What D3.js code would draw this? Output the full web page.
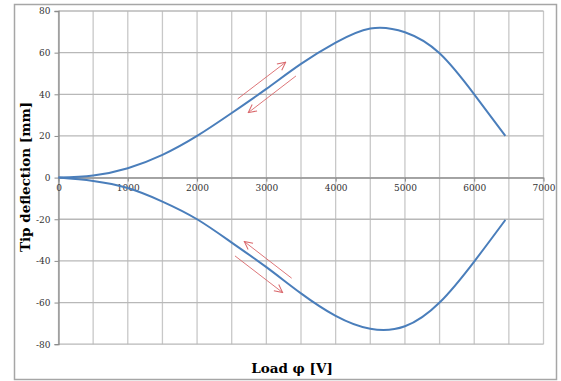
<!DOCTYPE html>
<html>
<head>
<meta charset="utf-8">
<script src="https://cdn.jsdelivr.net/npm/d3@7"></script>
<style>
  body { margin: 0; background: #fff; }
  svg { display: block; }
  .tick-label { font-family: "DejaVu Serif", serif; font-size: 9px; fill: #333; }
  .axis-title { font-family: "DejaVu Serif", serif; font-size: 13.5px; font-weight: bold; fill: #000; }
</style>
</head>
<body>
<svg id="chart" width="561" height="381"></svg>
<script>
// Load in volts
const load = [0, 500, 1000, 1500, 2000, 2500, 3000, 3500, 4000, 4500, 5000, 5500, 6000, 6450];
// Tip deflection in mm, positive branch
const deflectionUp = [0, 1, 4.5, 10.9, 20, 31, 42.6, 54.6, 64.8, 71.6, 69.8, 59.7, 40, 20];
// Negative branch
const deflectionDown = [0, -1.6, -5, -11.5, -20, -31.2, -43, -55.6, -66.4, -72.6, -71.4, -60, -40.3, -20.3];

const xTicks = [0, 1000, 2000, 3000, 4000, 5000, 6000, 7000];
const xGrid = [0, 500, 1000, 1500, 2000, 2500, 3000, 3500, 4000, 4500, 5000, 5500, 6000, 6500, 7000];
const yTicks = [-80, -60, -40, -20, 0, 20, 40, 60, 80];

// Direction arrows (from -> to), in data units
const arrowsFrom = [[2586, 37.8], [3427, 48.8], [3365, -48.3], [2547, -37.6]];
const arrowsTo = [[3279, 55.4], [2739, 31.2], [2681, -30.7], [3235, -55.2]];

const svg = d3.select('#chart');

// Outer chart border
svg.append('rect')
  .attr('x', 14.5).attr('y', 4.5)
  .attr('width', 542).attr('height', 375)
  .attr('fill', '#fff')
  .attr('stroke', '#a6a6a6')
  .attr('stroke-width', 1.5);

const margin = { top: 11, right: 18, bottom: 37, left: 58.5 };
const width = 543.5 - margin.left;
const height = 344.2 - margin.top;

const chart = svg.append('g')
  .attr('transform', `translate(${margin.left},${margin.top})`);

const xScale = d3.scaleLinear().domain([0, 7000]).range([0, width]);
const yScale = d3.scaleLinear().domain([-80, 80]).range([height, 0]);

// Grid lines
chart.selectAll('.vgrid')
  .data(xGrid)
  .enter().append('line')
  .attr('class', 'vgrid')
  .attr('x1', d => xScale(d)).attr('x2', d => xScale(d))
  .attr('y1', 0).attr('y2', height)
  .attr('stroke', '#c8c8c8')
  .attr('stroke-width', 1.3);

chart.selectAll('.hgrid')
  .data(yTicks)
  .enter().append('line')
  .attr('class', 'hgrid')
  .attr('x1', 0).attr('x2', width)
  .attr('y1', d => yScale(d)).attr('y2', d => yScale(d))
  .attr('stroke', '#b8b8b8')
  .attr('stroke-width', 1.3);

// Excel-style plain numbers with a hyphen minus
const fmt = d => String(d);

// Axes crossing at zero
const yAxis = chart.append('g')
  .call(d3.axisLeft(yScale).tickValues(yTicks).tickFormat(fmt).tickSize(4).tickPadding(4));
yAxis.select('.domain').attr('stroke', '#8c8c8c').attr('stroke-width', 1.3);
yAxis.selectAll('.tick line').attr('stroke', '#8c8c8c');
yAxis.selectAll('.tick text').attr('class', 'tick-label').attr('fill', null);

const xAxis = chart.append('g')
  .attr('transform', `translate(0,${yScale(0)})`)
  .call(d3.axisBottom(xScale).tickValues(xTicks).tickFormat(fmt).tickSize(4).tickPadding(3).tickSizeOuter(0));
xAxis.select('.domain').attr('stroke', '#8c8c8c').attr('stroke-width', 1.3);
xAxis.selectAll('.tick line').attr('stroke', '#8c8c8c');
xAxis.selectAll('.tick text').attr('class', 'tick-label').attr('fill', null);

// Deflection curves
const line = d3.line()
  .x(d => xScale(d[0]))
  .y(d => yScale(d[1]))
  .curve(d3.curveNatural);

[deflectionUp, deflectionDown].forEach(ys => {
  chart.append('path')
    .datum(load.map((x, i) => [x, ys[i]]))
    .attr('d', line)
    .attr('fill', 'none')
    .attr('stroke', '#4a7ebb')
    .attr('stroke-width', 2);
});

// Arrow marker
svg.append('defs').append('marker')
  .attr('id', 'head')
  .attr('viewBox', '0 0 10 10')
  .attr('refX', 9).attr('refY', 5)
  .attr('markerWidth', 10).attr('markerHeight', 10)
  .attr('markerUnits', 'userSpaceOnUse')
  .attr('orient', 'auto')
  .append('path')
  .attr('d', 'M1,1 L9,5 L1,9')
  .attr('fill', 'none')
  .attr('stroke', '#d9666a')
  .attr('stroke-width', 1);

chart.selectAll('.arrow')
  .data(arrowsFrom.map((f, i) => [f, arrowsTo[i]]))
  .enter().append('line')
  .attr('class', 'arrow')
  .attr('x1', d => xScale(d[0][0])).attr('y1', d => yScale(d[0][1]))
  .attr('x2', d => xScale(d[1][0])).attr('y2', d => yScale(d[1][1]))
  .attr('stroke', '#d9666a')
  .attr('stroke-width', 0.9)
  .attr('marker-end', 'url(#head)');

// Axis titles
svg.append('text')
  .attr('class', 'axis-title')
  .attr('x', 292).attr('y', 373)
  .attr('text-anchor', 'middle')
  .text('Load φ [V]');

svg.append('text')
  .attr('class', 'axis-title')
  .attr('transform', 'translate(30,177) rotate(-90)')
  .attr('text-anchor', 'middle')
  .text('Tip deflection [mm]');
</script>
</body>
</html>
